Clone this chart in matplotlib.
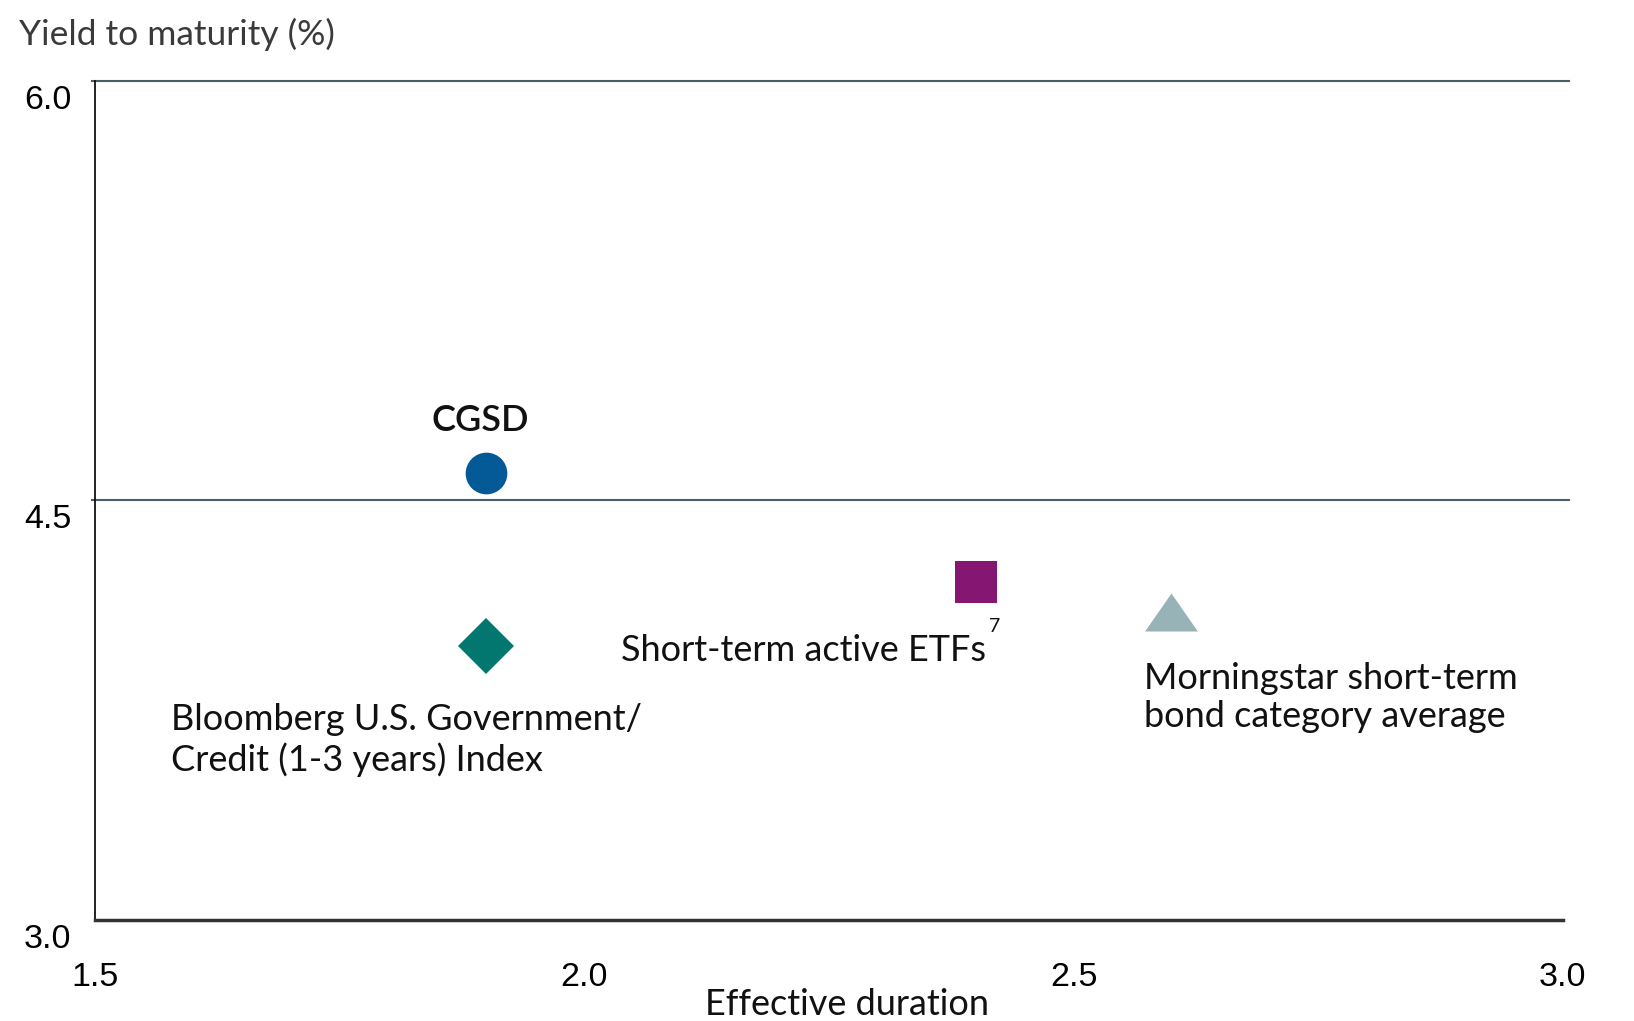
import matplotlib
matplotlib.use("Agg")
import matplotlib.pyplot as plt
from matplotlib.transforms import ScaledTranslation

# ---- data ----
names = ["CGSD", "Bloomberg U.S. Government/\nCredit (1-3 years) Index",
         "Short-term active ETFs", "Morningstar short-term\nbond category average"]
duration = [1.90, 1.90, 2.40, 2.60]
ytm = [4.60, 3.98, 4.21, 4.10]
colors = ["#035a96", "#02776f", "#851672", "#98b3b8"]
markers = ["o", "D", "s", [(-1, -0.72), (1, -0.72), (0, 0.72)]]
msizes = [30, 29, 30, 38]

x_ticks = [1.5, 2.0, 2.5, 3.0]
y_ticks = [3.0, 4.5, 6.0]
x_tick_labels = ["1.5", "2.0", "2.5", "3.0"]
y_tick_labels = ["3.0", "4.5", "6.0"]

TXT = "Lato"
TICK = "Liberation Sans"

fig = plt.figure(figsize=(16.34, 10.21), dpi=100)
ax = fig.add_axes([0.058, 0.0989, 0.8985, 0.8218])
ax.set_xlim(1.5, 3.0)
ax.set_ylim(3.0, 6.0)

# gridlines
for yv in [4.5, 6.0]:
    ax.axhline(yv, xmin=-0.002, xmax=1.004, color="#4b5e67", lw=1.5,
               clip_on=False, zorder=1)

for x, y, c, m, s in zip(duration, ytm, colors, markers, msizes):
    ax.plot([x], [y], linestyle="none", marker=m, markersize=s,
            color=c, markeredgewidth=0, zorder=3)

# spines
for sp in ["top", "right"]:
    ax.spines[sp].set_visible(False)
ax.spines["left"].set_color("#111111")
ax.spines["left"].set_linewidth(1.3)
ax.spines["bottom"].set_color("#333333")
ax.spines["bottom"].set_linewidth(2.5)

ax.set_xticks(x_ticks)
ax.set_xticklabels(x_tick_labels, fontfamily=TICK, fontsize=24.5)
ax.set_yticks(y_ticks)
ax.set_yticklabels(y_tick_labels, fontfamily=TICK, fontsize=24.5)
ax.tick_params(axis="both", length=0)
ax.tick_params(axis="y", pad=17)
ax.tick_params(axis="x", pad=30)
off = ScaledTranslation(0, -0.16, fig.dpi_scale_trans)
for lab in ax.get_yticklabels():
    lab.set_transform(lab.get_transform() + off)

# labels
fs = 26
ax.text(1.894, 4.785, names[0], fontfamily=TXT, fontsize=fs, fontweight="semibold",
        ha="center", va="center", color="#111111")
ax.text(1.578, 3.644, names[1], fontfamily=TXT, fontsize=fs, ha="left",
        va="center", linespacing=1.2, color="#111111")
ax.text(2.411, 3.964, names[2], fontfamily=TXT, fontsize=fs, ha="right",
        va="center", color="#111111")
ax.text(2.414, 4.050, "7", fontfamily=TXT, fontsize=14, ha="left",
        va="center", color="#111111")
ax.text(2.572, 3.795, names[3], fontfamily=TXT, fontsize=fs, ha="left",
        va="center", linespacing=1.2, color="#111111")

fig.text(0.01148, 0.9663, "Yield to maturity (%)", fontfamily=TXT, fontsize=25.5,
         ha="left", va="center", color="#3a3a3a")
fig.text(0.5185, 0.016, "Effective duration", fontfamily=TXT, fontsize=fs,
         ha="center", va="center", color="#111111")

fig.savefig("out.png", dpi=100)
